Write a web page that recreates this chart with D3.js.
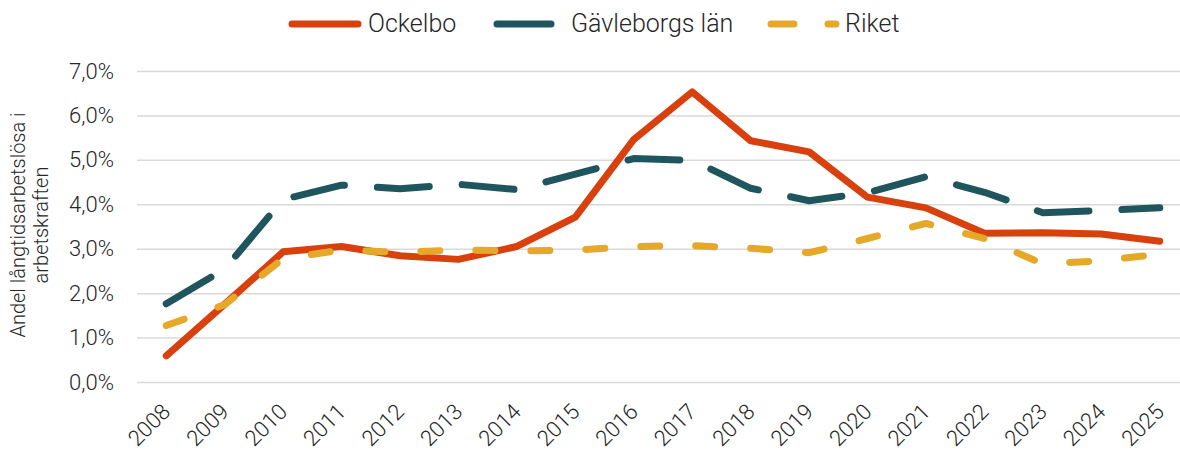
<!DOCTYPE html>
<html>
<head>
<meta charset="utf-8">
<script src="https://cdn.jsdelivr.net/npm/d3@7"></script>
<style>
  body { margin: 0; background: #fff; }
  #wrapper { width: 1180px; height: 450px; }
  text { font-family: Roboto, "Open Sans", sans-serif; font-weight: 300; fill: #262626; }
</style>
</head>
<body>
<div id="wrapper"></div>
<script>
const years = ["2008","2009","2010","2011","2012","2013","2014","2015","2016",
               "2017","2018","2019","2020","2021","2022","2023","2024","2025"];
const ockelbo = [0.59, 1.75, 2.93, 3.05, 2.84, 2.76, 3.05, 3.71, 5.46,
                 6.53, 5.43, 5.18, 4.16, 3.92, 3.35, 3.36, 3.33, 3.17];
const gavleborg = [1.76, 2.54, 4.11, 4.43, 4.35, 4.45, 4.33, 4.68, 5.03,
                   4.99, 4.36, 4.08, 4.26, 4.62, 4.27, 3.81, 3.86, 3.92];
const riket = [1.27, 1.74, 2.78, 2.97, 2.92, 2.97, 2.95, 2.97, 3.05,
               3.07, 3.01, 2.91, 3.23, 3.57, 3.23, 2.66, 2.73, 2.88];
const yTicks = [0, 1, 2, 3, 4, 5, 6, 7];
const seriesNames = ["Ockelbo", "Gävleborgs län", "Riket"];

function drawChart() {
    const dimension = {
        width: 1180,
        height: 450,
        margin: { top: 71, left: 137, bottom: 68, right: -9 }
    };
    dimension.boundedWidth = dimension.width - dimension.margin.left - dimension.margin.right;
    dimension.boundedHeight = dimension.height - dimension.margin.top - dimension.margin.bottom;

    const svg = d3.select("#wrapper").append("svg")
        .attr("width", dimension.width)
        .attr("height", dimension.height);

    const xScaler = d3.scalePoint()
        .domain(years)
        .range([dimension.margin.left, dimension.margin.left + dimension.boundedWidth])
        .padding(0.5);
    const yScaler = d3.scaleLinear()
        .domain([0, 7])
        .range([dimension.margin.top + dimension.boundedHeight, dimension.margin.top]);

    const sv = d3.formatLocale({ decimal: ",", thousands: " ", grouping: [3], currency: ["", " kr"] });
    const fmt = sv.format(".1f");

    // grid + y labels
    const yAxis = d3.axisLeft(yScaler)
        .tickValues(yTicks)
        .tickSize(-(dimension.width - dimension.margin.left))
        .tickPadding(23)
        .tickFormat(d => fmt(d) + "%");
    const gy = svg.append("g")
        .attr("transform", `translate(${dimension.margin.left},0)`)
        .call(yAxis);
    gy.select(".domain").remove();
    gy.selectAll(".tick line").attr("stroke", "#d9d9d9").attr("stroke-width", 1.5);
    gy.selectAll(".tick text")
        .style("font-size", "22px")
        .attr("fill", "#262626");

    // x labels
    const xAxis = d3.axisBottom(xScaler).tickSize(0).tickPadding(0);
    const gx = svg.append("g")
        .attr("transform", `translate(0,${dimension.margin.top + dimension.boundedHeight})`)
        .call(xAxis);
    gx.select(".domain").remove();
    gx.selectAll(".tick text")
        .style("font-size", "22px")
        .attr("text-anchor", "end")
        .attr("dy", 0)
        .attr("transform", "translate(5,31) rotate(-45)");

    // y title
    const title = svg.append("text")
        .attr("transform", "translate(0,225) rotate(-90)")
        .attr("text-anchor", "middle")
        .style("font-size", "20px");
    title.append("tspan").attr("x", 0).attr("y", 25).text("Andel långtidsarbetslösa i");
    title.append("tspan").attr("x", 0).attr("y", 48).text("arbetskraften");

    const series = [
        { name: seriesNames[0], values: ockelbo, color: "#d8400e", dash: null },
        { name: seriesNames[1], values: gavleborg, color: "#1f565e", dash: "52,33" },
        { name: seriesNames[2], values: riket, color: "#e5a829", dash: "19,36" }
    ];

    const line = d3.line()
        .x((d, i) => xScaler(years[i]))
        .y(d => yScaler(d));

    series.forEach(s => {
        svg.append("path")
            .datum(s.values)
            .attr("d", line)
            .attr("fill", "none")
            .attr("stroke", s.color)
            .attr("stroke-width", 7)
            .attr("stroke-linecap", "round")
            .attr("stroke-linejoin", "round")
            .attr("stroke-dasharray", s.dash);
    });

    // legend
    const legendItems = [
        { s: series[0], x1: 292, x2: 358, tx: 368, dash: null },
        { s: series[1], x1: 497, x2: 551, tx: 571, dash: null },
        { s: series[2], x1: 771, x2: 836, tx: 845, dash: "23,34" }
    ];
    const legend = svg.append("g");
    legendItems.forEach(it => {
        legend.append("line")
            .attr("x1", it.x1).attr("x2", it.x2)
            .attr("y1", 24).attr("y2", 24)
            .attr("stroke", it.s.color)
            .attr("stroke-width", 7)
            .attr("stroke-linecap", "round")
            .attr("stroke-dasharray", it.dash);
        legend.append("text")
            .attr("x", it.tx)
            .attr("y", 32)
            .style("font-size", "25px")
            .attr("fill", "#1a1a1a")
            .text(it.s.name);
    });
}

drawChart();
</script>
</body>
</html>
